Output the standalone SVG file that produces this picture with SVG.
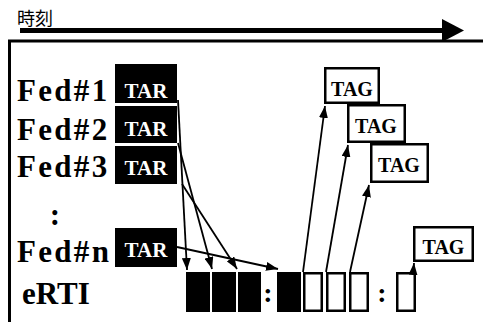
<svg xmlns="http://www.w3.org/2000/svg" width="483" height="322" viewBox="0 0 483 322">
<style>
.lbl{font-family:"Liberation Serif","Times New Roman",serif;font-weight:bold;font-size:31px;fill:#000}
.fed{letter-spacing:2.3px}
.tar{font-family:"Liberation Serif","Times New Roman",serif;font-weight:bold;font-size:21px;fill:#fff;text-anchor:middle}
.tag{font-family:"Liberation Serif","Times New Roman",serif;font-weight:bold;font-size:20px;fill:#000;text-anchor:middle}
.blk{fill:#000}
.wht{fill:#fff;stroke:#000;stroke-width:2.5}
.tagbox{fill:#fff;stroke:#000;stroke-width:2.5}
.conn line{stroke:#000;stroke-width:1.8;fill:none;marker-end:url(#ah)}
.col{font-family:"Liberation Serif","Times New Roman",serif;font-weight:bold;font-size:28px;fill:#000;text-anchor:middle}
</style>
<defs>
<marker id="ah" viewBox="0 0 12 9" markerUnits="userSpaceOnUse" markerWidth="12" markerHeight="9" refX="12" refY="4.5" orient="auto">
<path d="M0,0 L12,4.5 L0,9 Z" fill="#000"/>
</marker>
</defs>
<rect width="483" height="322" fill="#fff"/>
<g id="time-axis">
<text x="17" y="25" font-family="Noto Sans CJK JP, sans-serif" font-size="18">時刻</text>
<line x1="20" y1="30.5" x2="443" y2="30.5" stroke="#000" stroke-width="5"/>
<polygon points="442,19 464,30.5 442,42" fill="#000"/>
</g>
<g id="frame">
<path d="M9.5,322 V41 H483" fill="none" stroke="#000" stroke-width="3"/>
</g>
<g id="fed1">
<text class="lbl fed" x="17" y="101">Fed#1</text>
<rect class="blk" x="115" y="64" width="62" height="39"/>
<text class="tar" x="146" y="98">TAR</text>
</g>
<g id="fed2">
<text class="lbl fed" x="17" y="140">Fed#2</text>
<rect class="blk" x="115" y="106" width="62" height="37"/>
<text class="tar" x="146" y="136">TAR</text>
</g>
<g id="fed3">
<text class="lbl fed" x="17" y="177">Fed#3</text>
<rect class="blk" x="115" y="146" width="62" height="38"/>
<text class="tar" x="146" y="175">TAR</text>
</g>
<g id="ellipsis">
<text class="lbl" x="55" y="225" text-anchor="middle">:</text>
</g>
<g id="fedn">
<text class="lbl fed" x="17" y="262">Fed#n</text>
<rect class="blk" x="115" y="228" width="62" height="39"/>
<text class="tar" x="146" y="257">TAR</text>
</g>
<g id="erti">
<text class="lbl" x="22" y="304">eRTI</text>
<rect class="blk" x="186" y="272" width="24" height="40"/>
<rect class="blk" x="212" y="272" width="24" height="40"/>
<rect class="blk" x="238" y="272" width="23" height="40"/>
<text class="col" x="268" y="302">:</text>
<rect class="blk" x="277" y="272" width="24" height="40"/>
<rect class="wht" x="304.25" y="273.25" width="17.5" height="37.5"/>
<rect class="wht" x="327.25" y="273.25" width="17.5" height="37.5"/>
<rect class="wht" x="350.25" y="273.25" width="17.5" height="37.5"/>
<text class="col" x="382" y="302">:</text>
<rect class="wht" x="397.25" y="273.25" width="17.5" height="37.5"/>
</g>
<g id="tag1">
<rect class="tagbox" x="325.25" y="68.25" width="53.5" height="34.5"/>
<text class="tag" x="352" y="96">TAG</text>
</g>
<g id="tag2">
<rect class="tagbox" x="348.25" y="105.25" width="56.5" height="36.5"/>
<text class="tag" x="376" y="133">TAG</text>
</g>
<g id="tag3">
<rect class="tagbox" x="371.25" y="144.25" width="56.5" height="37.5"/>
<text class="tag" x="399" y="172">TAG</text>
</g>
<g id="tag4">
<rect class="tagbox" x="414.25" y="227.25" width="58.5" height="33.5"/>
<text class="tag" x="443.5" y="254">TAG</text>
</g>
<g id="connectors" class="conn">
<line x1="178" y1="100" x2="187" y2="270"/>
<line x1="178" y1="143" x2="212" y2="269"/>
<line x1="182" y1="184" x2="237" y2="269"/>
<line x1="177" y1="247" x2="278" y2="269"/>
<line x1="303" y1="272" x2="325" y2="106"/>
<line x1="326" y1="272" x2="348" y2="145"/>
<line x1="350" y1="272" x2="369" y2="185"/>
<line x1="413" y1="275" x2="414" y2="263"/>
</g>
</svg>
